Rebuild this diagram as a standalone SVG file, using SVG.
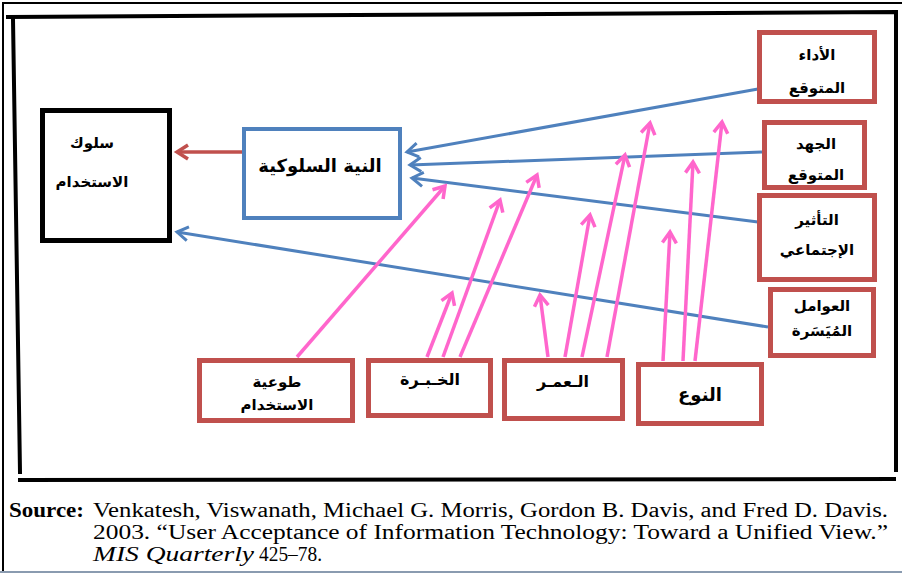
<svg xmlns="http://www.w3.org/2000/svg" width="902" height="574" viewBox="0 0 902 574">
<defs>
<style>
.frame{stroke:#000;fill:none;stroke-linecap:square}
.rbox{fill:#fff;stroke:#c0504d;stroke-width:5}
.bbox{fill:#fff;stroke:#4f81bd;stroke-width:4}
.kbox{fill:#fff;stroke:#000;stroke-width:5}
.ar{font-family:"DejaVu Sans",sans-serif;font-weight:bold;font-size:15px;fill:#000;text-anchor:middle}
.pink{stroke:#ff66cc;stroke-width:3.5;fill:none;marker-end:url(#mp)}
.blue{stroke:#4f81bd;stroke-width:3;fill:none;marker-end:url(#mb)}
.red{stroke:#c0504d;stroke-width:3.5;fill:none;marker-end:url(#mr)}
.src{font-family:"Liberation Serif",serif;font-size:20px;fill:#000}
</style>
<marker id="mp" markerUnits="userSpaceOnUse" markerWidth="20" markerHeight="20" viewBox="0 0 20 20" refX="16" refY="10" orient="auto"><path d="M5,3 L16,10 L5,17" fill="none" stroke="#ff66cc" stroke-width="3.5"/></marker>
<marker id="mb" markerUnits="userSpaceOnUse" markerWidth="20" markerHeight="20" viewBox="0 0 20 20" refX="16" refY="10" orient="auto"><path d="M5,3 L16,10 L5,17" fill="none" stroke="#4f81bd" stroke-width="3"/></marker>
<marker id="mr" markerUnits="userSpaceOnUse" markerWidth="20" markerHeight="20" viewBox="0 0 20 20" refX="16" refY="10" orient="auto"><path d="M5,3 L16,10 L5,17" fill="none" stroke="#c0504d" stroke-width="3.5"/></marker>
</defs>
<rect x="0" y="0" width="902" height="574" fill="#fff"/>
<g id="frame">
<path class="frame" stroke-width="2" d="M3,572 L3,3 L902,3"/>
<path class="frame" stroke-width="4" d="M8,17 L896,12 L896,470"/>
<path class="frame" stroke-width="4" d="M13,19 L20,472"/>
<path class="frame" stroke-width="4" d="M20,480 L894,479"/>
<line x1="0" y1="572" x2="902" y2="572" stroke="#8a9bb0" stroke-width="2"/>
</g>
<g id="connectors">
<line class="red" x1="242" y1="152" x2="177" y2="152"/>
<line class="blue" x1="758" y1="89" x2="407" y2="152"/>
<line class="blue" x1="762" y1="152" x2="410" y2="165"/>
<line class="blue" x1="758" y1="222" x2="412" y2="178"/>
<line class="blue" x1="768" y1="327" x2="177" y2="232"/>
<line class="pink" x1="297" y1="357" x2="445" y2="186"/>
<line class="pink" x1="427" y1="357" x2="452" y2="293"/>
<line class="pink" x1="443" y1="357" x2="500" y2="200"/>
<line class="pink" x1="460" y1="357" x2="537" y2="175"/>
<line class="pink" x1="548" y1="357" x2="540" y2="295"/>
<line class="pink" x1="565" y1="357" x2="590" y2="215"/>
<line class="pink" x1="582" y1="357" x2="625" y2="155"/>
<line class="pink" x1="607" y1="357" x2="650" y2="123"/>
<line class="pink" x1="663" y1="361" x2="670" y2="232"/>
<line class="pink" x1="683" y1="361" x2="693" y2="162"/>
<line class="pink" x1="695" y1="361" x2="722" y2="122"/>
</g>
<g id="usage-behavior">
<rect class="kbox" x="42.5" y="110.5" width="127" height="130"/>
<text class="ar" x="92" y="148">سلوك</text>
<text class="ar" x="92" y="187">الاستخدام</text>
</g>
<g id="behavioral-intention">
<rect class="bbox" x="244" y="129" width="156" height="89"/>
<text class="ar" x="320" y="172" style="font-size:18px">النية السلوكية</text>
</g>
<g id="performance-expectancy">
<rect class="rbox" x="759.5" y="32.5" width="115" height="69"/>
<text class="ar" x="817" y="60">الأداء</text>
<text class="ar" x="817" y="93">المتوقع</text>
</g>
<g id="effort-expectancy">
<rect class="rbox" x="764.5" y="122.5" width="100" height="65"/>
<text class="ar" x="816" y="149">الجهد</text>
<text class="ar" x="816" y="180">المتوقع</text>
</g>
<g id="social-influence">
<rect class="rbox" x="759.5" y="195.5" width="115" height="84"/>
<text class="ar" x="817" y="225">التأثير</text>
<text class="ar" x="817" y="255">الإجتماعي</text>
</g>
<g id="facilitating-conditions">
<rect class="rbox" x="770.5" y="289.5" width="103" height="66"/>
<text class="ar" x="822" y="311">العوامل</text>
<text class="ar" x="822" y="336">المُيَسَرة</text>
</g>
<g id="voluntariness">
<rect class="rbox" x="199.5" y="360.5" width="153" height="60"/>
<text class="ar" x="277" y="387">طوعية</text>
<text class="ar" x="277" y="410">الاستخدام</text>
</g>
<g id="experience">
<rect class="rbox" x="368.5" y="360.5" width="122" height="55"/>
<text class="ar" x="430" y="385" style="font-size:16px">الخـبـرة</text>
</g>
<g id="age">
<rect class="rbox" x="504.5" y="360.5" width="118" height="58"/>
<text class="ar" x="563" y="387" style="font-size:16px">الـعمـر</text>
</g>
<g id="gender">
<rect class="rbox" x="638.5" y="364.5" width="123" height="59"/>
<text class="ar" x="700" y="401" style="font-size:18px">النوع</text>
</g>
<g id="source">
<text class="src" x="9" y="517" font-weight="bold" textLength="75" lengthAdjust="spacingAndGlyphs">Source:</text>
<text class="src" x="93" y="517" textLength="795" lengthAdjust="spacingAndGlyphs">Venkatesh, Viswanath, Michael G. Morris, Gordon B. Davis, and Fred D. Davis.</text>
<text class="src" x="93" y="539" textLength="795" lengthAdjust="spacingAndGlyphs">2003. “User Acceptance of Information Technology: Toward a Unified View.”</text>
<text class="src" x="93" y="561" font-style="italic" textLength="161" lengthAdjust="spacingAndGlyphs">MIS Quarterly</text>
<text class="src" x="259" y="561" textLength="63" lengthAdjust="spacingAndGlyphs">425–78.</text>
</g>
</svg>
